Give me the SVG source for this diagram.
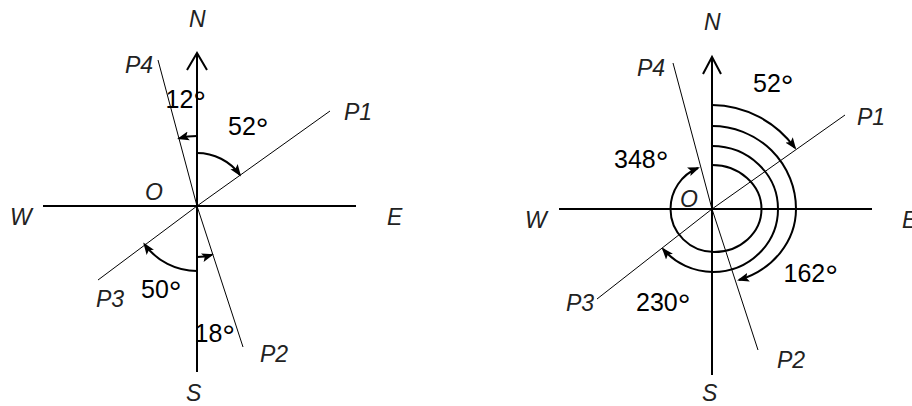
<svg xmlns="http://www.w3.org/2000/svg" width="912" height="406" viewBox="0 0 912 406">
<style>
.axis{stroke:#000;stroke-width:2;fill:none}
.ray{stroke:#000;stroke-width:1;fill:none}
.arc{stroke:#000;stroke-width:2;fill:none;marker-end:url(#ah)}
.lbl{font-family:"Liberation Sans",Arial,sans-serif;font-size:23px;font-style:italic;fill:#222}
.num{font-family:"Liberation Sans",Arial,sans-serif;font-size:25px;fill:#000}
.deg{font-size:32px}
</style>
<defs>
<marker id="ah" markerUnits="userSpaceOnUse" viewBox="0 0 12 10" refX="10" refY="5" markerWidth="12" markerHeight="10" orient="auto">
<path d="M0,0.5 L12,5 L0,9.5 L2.5,5 z" fill="#000"/>
</marker>
</defs>
<rect width="912" height="406" fill="#fff"/>
<g id="left">
<path class="axis" d="M197,53 V372 M43,206 H356"/>
<path class="axis" d="M187,70 L197,53 L207,70"/>
<path class="ray" d="M98,280 L197,206 L330,111"/>
<path class="ray" d="M158,60 L197,206 L243,347"/>
<path class="arc" d="M197,136 A70,70 0 0 0 179,138.4"/>
<path class="arc" d="M197,153 A53,53 0 0 1 239.9,174.8"/>
<path class="arc" d="M197,271 A65,65 0 0 1 144.4,244.2"/>
<path class="arc" d="M197,257 A51,51 0 0 0 211.9,254.8"/>
<text class="lbl" x="189" y="27">N</text>
<text class="lbl" x="125" y="73">P4</text>
<text class="num" x="165.5" y="108">12<tspan class="deg" dy="5">°</tspan></text>
<text class="num" x="228" y="135">52<tspan class="deg" dy="5">°</tspan></text>
<text class="lbl" x="344" y="120">P1</text>
<text class="lbl" x="145" y="200">O</text>
<text class="lbl" x="10" y="225">W</text>
<text class="lbl" x="387" y="225">E</text>
<text class="num" x="141" y="298">50<tspan class="deg" dy="5">°</tspan></text>
<text class="lbl" x="96" y="307">P3</text>
<text class="num" x="194.5" y="342">18<tspan class="deg" dy="5">°</tspan></text>
<text class="lbl" x="260" y="362">P2</text>
<text class="lbl" x="186" y="401">S</text>
</g>
<g id="right">
<path class="axis" d="M712,57 V375 M559,209 H872"/>
<path class="axis" d="M703,74 L712,57 L721,74"/>
<path class="ray" d="M597,299 L712,209 L845,115"/>
<path class="ray" d="M673,63 L712,209 L758,350"/>
<path class="arc" d="M712,105 A104,104 0 0 1 795,148"/>
<path class="arc" d="M712,126 A84,83 0 0 1 796,209 A83,75 0 0 1 739,280"/>
<path class="arc" d="M712,146 A66,63 0 0 1 778,209 A65,63 0 0 1 713,272 A65,63 0 0 1 663,249"/>
<path class="arc" d="M712,165 A49.5,44 0 0 1 761.5,209 A47.5,43 0 0 1 714,252 A43.5,43 0 0 1 670.5,209 A43.5,44 0 0 1 698,168"/>
<text class="lbl" x="704" y="30">N</text>
<text class="lbl" x="637" y="76">P4</text>
<text class="num" x="753" y="92">52<tspan class="deg" dy="5">°</tspan></text>
<text class="lbl" x="857" y="125">P1</text>
<text class="num" x="614" y="168">348<tspan class="deg" dy="5">°</tspan></text>
<text class="lbl" x="680" y="207">O</text>
<text class="lbl" x="525" y="228">W</text>
<text class="lbl" x="902" y="228">E</text>
<text class="num" x="783.5" y="282">162<tspan class="deg" dy="5">°</tspan></text>
<text class="num" x="636" y="311">230<tspan class="deg" dy="5">°</tspan></text>
<text class="lbl" x="566" y="311">P3</text>
<text class="lbl" x="777" y="368">P2</text>
<text class="lbl" x="702" y="401">S</text>
</g>
</svg>
